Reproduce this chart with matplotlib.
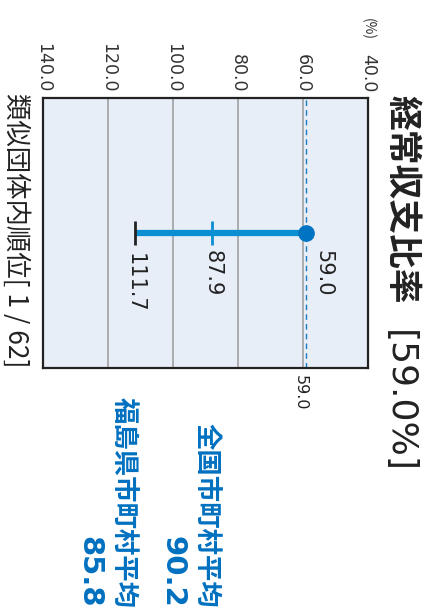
import matplotlib
matplotlib.use("Agg")
import matplotlib.pyplot as plt

plt.rcParams['font.family'] = ['Noto Sans CJK JP', 'DejaVu Sans']

# data
title_text = "経常収支比率"
title_value = "[59.0%]"
rank_text = "類似団体内順位[ 1 / 62]"
value = 59.0          # own ratio
group_avg = 87.9      # similar groups
group_max = 111.7     # worst in group
ticks = [40, 60, 80, 100, 120, 140]
tick_labels = ["40.0", "60.0", "80.0", "100.0", "120.0", "140.0"]
avg_labels = ["全国市町村平均", "福島県市町村平均"]
avg_values = ["90.2", "85.8"]

num_font = 'DejaVu Sans'

W, H = 424, 614
fig = plt.figure(figsize=(W / 100, H / 100), dpi=100)
ax = fig.add_axes([43 / W, 1 - 368 / H, (368 - 43) / W, (368 - 98) / H])
ax.set_facecolor('#e8eef8')

ax.set_xlim(140, 40)
ax.set_ylim(-1, 1)
ax.set_xticks(ticks)
ax.set_xticklabels(tick_labels, family=num_font)
ax.set_yticks([])
ax.tick_params(axis='x', top=True, bottom=False, labeltop=True, labelbottom=False,
               length=0, pad=4, labelsize=12.5, labelcolor='#333333', labelrotation=270)
for s in ax.spines.values():
    s.set_linewidth(1.6)
    s.set_color('#222222')
for t in [60, 80, 100, 120]:
    ax.axvline(t, color='#a0a0a0', lw=1.2, zorder=1)

blue = '#0a8fd2'
ax.axvline(value, color='#1a7cc4', lw=1, ls=(0, (4, 3)), zorder=2)

# range line
ax.plot([value, group_max], [0, 0], color=blue, lw=4.5, solid_capstyle='butt', zorder=3)
ax.vlines(group_avg, -0.092, 0.092, color=blue, lw=2, zorder=3)
ax.vlines(group_max, -0.092, 0.092, color='#222222', lw=2, zorder=3)
ax.plot([value], [0], 'o', color='#0074c2', markersize=11, zorder=4)

ax.annotate(f"{value:.1f}", xy=(value, 0), xytext=(7, -17), textcoords='offset pixels',
            rotation=270, ha='left', va='top', fontsize=15, color='#222222', family=num_font)
ax.annotate(f"{group_avg:.1f}", xy=(group_avg, 0), xytext=(0, -17), textcoords='offset pixels',
            rotation=270, ha='center', va='top', fontsize=15, color='#222222', family=num_font)
ax.annotate(f"{group_max:.1f}", xy=(group_max, 0), xytext=(0, -20), textcoords='offset pixels',
            rotation=270, ha='center', va='top', fontsize=15, color='#222222', family=num_font)

# value under the box
ax.annotate(f"{value:.1f}", xy=(value, 0), xycoords=('data', 'axes fraction'),
            xytext=(1, -7), textcoords='offset pixels',
            rotation=270, ha='right', va='top', fontsize=11.5, color='#222222', family=num_font)
# unit
ax.annotate("(%)", xy=(40, 1), xycoords=('data', 'axes fraction'),
            xytext=(0, 58), textcoords='offset pixels',
            rotation=270, ha='center', va='bottom', fontsize=10, color='#333333')

fig.text(402 / W, 1 - 95 / H, title_text, rotation=270, ha='center', va='top',
         fontsize=25, fontweight='bold', color='#222222')
fig.text(399 / W, 1 - 330 / H, title_value, rotation=270, ha='center', va='top',
         fontsize=26, color='#222222', family=num_font)
fig.text(16 / W, 1 - 93 / H, rank_text, rotation=270, ha='center', va='top',
         fontsize=19, color='#222222')

dark_blue = '#0070c0'
for lab, val, xl, xv in zip(avg_labels, avg_values, [206, 123], [172, 89]):
    fig.text(xl / W, 1 - 608 / H, lab, rotation=270, ha='center', va='bottom',
             fontsize=19, fontweight='bold', color=dark_blue)
    fig.text(xv / W, 1 - 608 / H, val, rotation=270, ha='center', va='bottom',
             fontsize=21, fontweight='bold', color=dark_blue, family=num_font)

fig.savefig("out.png", dpi=100)
